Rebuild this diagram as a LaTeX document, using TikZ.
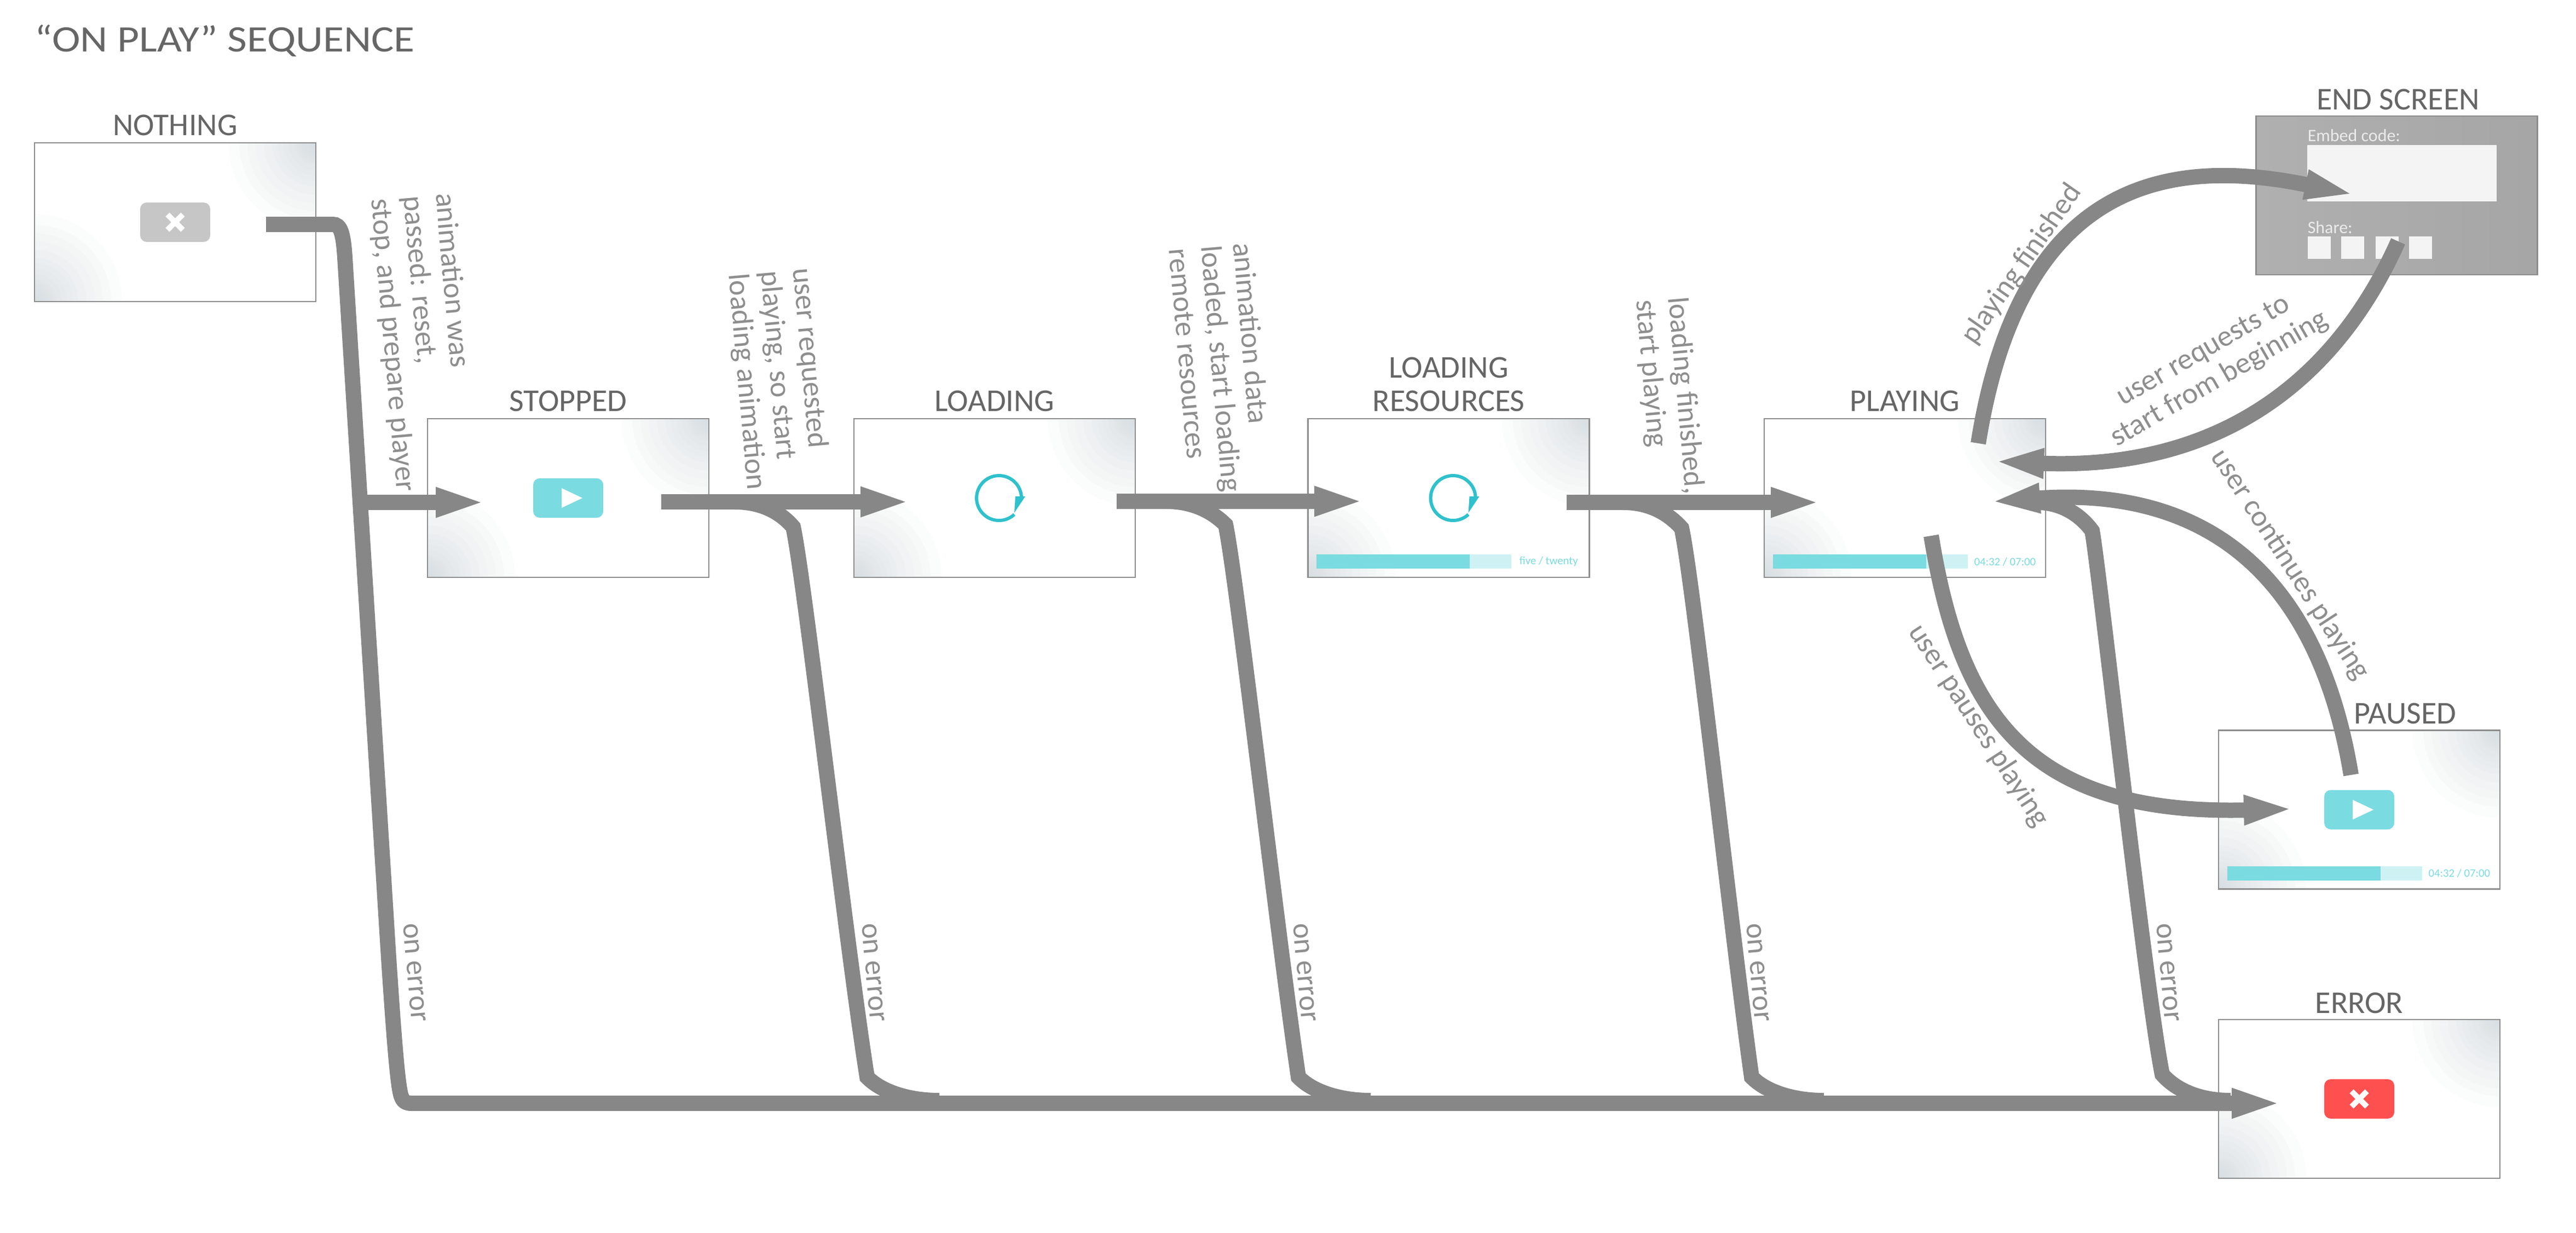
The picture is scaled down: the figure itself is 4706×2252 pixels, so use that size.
\documentclass[tikz,border=0pt]{standalone}
\usepackage{fontspec}
\setmainfont{Carlito}
\usetikzlibrary{arrows.meta,positioning}
\definecolor{flowGrey}{HTML}{878787}
\definecolor{boxEdge}{HTML}{8C8C8C}
\definecolor{boxShade}{HTML}{CED6DA}
\definecolor{titleGrey}{HTML}{666666}
\definecolor{labelGrey}{HTML}{8E8E8E}
\definecolor{tealIcon}{HTML}{7ADBE0}
\definecolor{tealLight}{HTML}{CEF2F4}
\definecolor{tealSpin}{HTML}{2FC1CC}
\definecolor{redIcon}{HTML}{FF5050}
\definecolor{greyIcon}{HTML}{C6C6C6}
\definecolor{panelWhite}{HTML}{F4F4F4}
\tikzset{
  %screens
  screenBox/.style = {draw=boxEdge, line width=.25mm, fill=white, inner sep=0pt,
    minimum width=51.4mm, minimum height=29mm,
    path picture={\foreach \crn in {north east,south west}{
      \foreach \rad in {.5,1,1.5,2,2.5,3,3.5,4,5,6,7,8,9.5,11,12.5,14,16}{
        \fill[boxShade, opacity=.07] (path picture bounding box.\crn) circle (\rad mm);}}}},
  endBox/.style = {draw=boxEdge, line width=.25mm, left color=black!31,
    right color=black!35, inner sep=0pt, minimum width=51.4mm, minimum height=29mm},
  %buttons
  iconBox/.style = {inner sep=0pt, minimum width=12.8mm, minimum height=7.2mm,
    rounded corners=1.2mm},
  %texts
  stateLabel/.style = {titleGrey, inner sep=0pt, text depth=0pt, align=center,
    font=\fontsize{16.5pt}{17.1pt}\selectfont},
  edgeLabel/.style = {labelGrey, inner sep=0pt, align=left, rotate=-85, anchor=north west,
    font=\fontsize{15.4pt}{16.8pt}\selectfont},
  freeLabel/.style = {labelGrey, inner sep=0pt, align=center,
    font=\fontsize{15.4pt}{16.8pt}\selectfont},
  barText/.style = {tealIcon, inner sep=0pt, font=\fontsize{5.9pt}{7pt}\selectfont},
  panelText/.style = {black!8, inner sep=0pt, anchor=west, font=\fontsize{9.1pt}{10pt}\selectfont},
  %connectors
  flowLine/.style = {draw=flowGrey, line width=2.8mm},
  flowArrow/.style = {flowLine, -{Triangle[length=9.3mm,width=4.8mm]}}
}
\newcommand{\playMark}[1]{\fill[white] ([shift={(-12,-18)}]#1.center) -- ([shift={(-12,18)}]#1.center) -- ([shift={(26,0)}]#1.center) -- cycle;}
\newcommand{\crossMark}[1]{\draw[white,line width=1mm] ([shift={(-14,-14)}]#1.center) -- ([shift={(14,14)}]#1.center) ([shift={(-14,14)}]#1.center) -- ([shift={(14,-14)}]#1.center);}
\newcommand{\spinMark}[1]{\draw[tealSpin,line width=.6mm] ([shift={(28,30)}]#1) arc[start angle=-47,end angle=-357,radius=4.1mm];
  \fill[tealSpin] ([shift={(30,-3)}]#1) -- ([shift={(48,-3)}]#1) -- ([shift={(28,27)}]#1) -- cycle;}
\newcommand{\progressBar}[3]{\fill[tealLight] ([shift={(17,-17)}]#1.south west) rectangle ([shift={(373,-43)}]#1.south west);
  \fill[tealIcon] ([shift={(17,-17)}]#1.south west) rectangle ([shift={(297,-43)}]#1.south west);
  \node[barText] (#2) at ([shift={(441,-30)}]#1.south west) {#3};}

\begin{document}
\begin{tikzpicture}[x=.1mm,y=-.1mm,node distance=1.2mm]
\useasboundingbox (0,0) rectangle (4706,2252);

\node[titleGrey, inner sep=0pt, anchor=west, font=\fontsize{19.4pt}{20pt}\selectfont] (titleText) at (63,74) {\scalebox{1.14}[1]{“ON PLAY” SEQUENCE}};

% screens
\node[screenBox] (nothingBox) at (320,406) {};
\node[screenBox] (stoppedBox) at (1038,910) {};
\node[screenBox] (loadingBox) at (1817,910) {};
\node[screenBox] (resourcesBox) at (2646.5,910) {};
\node[screenBox] (playingBox) at (3480,910) {};
\node[endBox] (endBox) at (4378.5,357) {};
\node[screenBox] (pausedBox) at (4310,1479.5) {};
\node[screenBox] (errorBox) at (4310,2008) {};

\node[stateLabel, above=of nothingBox] (nothingLabel) {NOTHING};
\node[stateLabel, above=of stoppedBox] (stoppedLabel) {STOPPED};
\node[stateLabel, above=of loadingBox] (loadingLabel) {LOADING};
\node[stateLabel, above=of resourcesBox] (resourcesLabel) {LOADING\\RESOURCES};
\node[stateLabel, above=of playingBox] (playingLabel) {PLAYING};
\node[stateLabel, above=1mm of endBox, xshift=.25mm] (endLabel) {END SCREEN};
\node[stateLabel, above=1mm of pausedBox, xshift=8.4mm] (pausedLabel) {PAUSED};
\node[stateLabel, above=1mm of errorBox] (errorLabel) {ERROR};

% buttons
\node[iconBox, fill=greyIcon] (nothingIcon) at (nothingBox) {};
\crossMark{nothingIcon}
\node[iconBox, fill=tealIcon] (stoppedIcon) at (stoppedBox) {};
\playMark{stoppedIcon}
\node[iconBox, fill=tealIcon] (pausedIcon) at (pausedBox) {};
\playMark{pausedIcon}
\node[iconBox, fill=redIcon] (errorIcon) at (errorBox) {};
\crossMark{errorIcon}
\coordinate (loadingSpin) at (1825,910);
\coordinate (resourcesSpin) at (2654.5,910);
\spinMark{loadingSpin}
\spinMark{resourcesSpin}

% progress bars
\progressBar{resourcesBox}{resourcesTime}{five / twenty}
\progressBar{playingBox}{playingTime}{04:32 / 07:00}
\progressBar{pausedBox}{pausedTime}{04:32 / 07:00}

% end screen
\node[panelText] (embedText) at (4215,248) {Embed code:};
\node[fill=panelWhite, inner sep=0pt, minimum width=34.6mm, minimum height=10.3mm] (embedPanel) at (4388,316.5) {};
\node[panelText] (shareText) at (4215,416) {Share:};
\node[fill=panelWhite, inner sep=0pt, minimum width=4.2mm, minimum height=4.1mm] (shareA) at (4236.5,452.5) {};
\node[fill=panelWhite, inner sep=0pt, minimum width=4.2mm, minimum height=4.1mm] (shareB) at (4298,452.5) {};
\node[fill=panelWhite, inner sep=0pt, minimum width=4.2mm, minimum height=4.1mm] (shareC) at (4360.5,452.5) {};
\node[fill=panelWhite, inner sep=0pt, minimum width=4.2mm, minimum height=4.1mm] (shareD) at (4422,452.5) {};

% connector ends
\coordinate (nothingOut) at (486,410);
\coordinate (stoppedTee) at (655,918);
\coordinate (stoppedIn) at (889,918);
\coordinate (stoppedOut) at (1208,917);
\coordinate (loadingIn) at (1665,917);
\coordinate (loadingOut) at (2040,916);
\coordinate (resourcesIn) at (2494,916);
\coordinate (resourcesOut) at (2862,918);
\coordinate (playingIn) at (3328,918);
\coordinate (playingUp) at (3614,810);
\coordinate (endIn) at (4303,356);
\coordinate (endOut) at (4381,441);
\coordinate (playingBack) at (3641,843);
\coordinate (pausedOut) at (4295,1416);
\coordinate (playingResume) at (3634,917);
\coordinate (playingDown) at (3528,979);
\coordinate (pausedIn) at (4192,1478);
\coordinate (errorIn) at (4170,2016);

% straight run
\draw[flowArrow] (stoppedTee) -- (stoppedIn);
\draw[flowArrow] (stoppedOut) -- (loadingIn);
\draw[flowArrow] (loadingOut) -- (resourcesIn);
\draw[flowArrow] (resourcesOut) -- (playingIn);
\draw[flowArrow] (nothingOut) -- (608,410) .. controls (622,410) and (627,425) .. (630,470)
  -- (710,1750) .. controls (718,1870) and (726,1985) .. (733,2003)
  .. controls (736,2012) and (741,2016) .. (752,2016) -- (errorIn);

% on error branches
\draw[flowLine] (1342,917) .. controls (1390,917) and (1425,935) .. (1449,963)
  .. controls (1470,1060) and (1545,1720) .. (1584,1968)
  .. controls (1610,1995) and (1660,2011) .. (1716,2011);
\draw[flowLine] (2130,916) .. controls (2180,916) and (2215,935) .. (2239,959)
  .. controls (2260,1060) and (2335,1720) .. (2372,1968)
  .. controls (2398,1995) and (2448,2011) .. (2504,2011);
\draw[flowLine] (2965,918) .. controls (3010,918) and (3045,935) .. (3072,965)
  .. controls (3093,1060) and (3165,1720) .. (3200,1968)
  .. controls (3226,1995) and (3276,2011) .. (3332,2011);
\draw[flowLine] (3722,918) .. controls (3765,918) and (3800,940) .. (3822,970)
  .. controls (3835,1040) and (3918,1800) .. (3950,1963)
  .. controls (3976,1993) and (4020,2011) .. (4075,2011);

% right side curves
\draw[flowArrow] (playingUp) .. controls (3690,330) and (3960,285) .. (endIn);
\draw[flowArrow] (endOut) .. controls (4270,690) and (4060,860) .. (playingBack);
\draw[flowArrow] (pausedOut) .. controls (4230,1020) and (4000,890) .. (playingResume);
\draw[flowArrow] (playingDown) .. controls (3580,1300) and (3700,1490) .. (pausedIn);

% texts on connectors
\node[edgeLabel] (passedText) at (834,350) {animation was\\passed: reset,\\stop, and prepare player};
\node[edgeLabel] (requestText) at (1487,487) {user requested\\playing, so start\\loading animation};
\node[edgeLabel] (dataText) at (2291,441) {animation data\\loaded, start loading\\remote resources};
\node[edgeLabel] (finishedText) at (3086,540) {loading finished,\\start playing};
\node[edgeLabel] (errorTextA) at (763,1685) {on error};
\node[edgeLabel] (errorTextB) at (1601,1685) {on error};
\node[edgeLabel] (errorTextC) at (2389,1685) {on error};
\node[edgeLabel] (errorTextD) at (3217,1685) {on error};
\node[edgeLabel] (errorTextE) at (3966,1685) {on error};
\node[freeLabel, rotate=55] (endedText) at (3694,483) {playing finished};
\node[freeLabel, rotate=30] (restartText) at (4041,668) {user requests to\\start from beginning};
\node[freeLabel, rotate=-57] (resumeText) at (4183,1032) {user continues playing};
\node[freeLabel, rotate=-57] (pauseText) at (3614,1326) {user pauses playing};
\end{tikzpicture}
\end{document}
